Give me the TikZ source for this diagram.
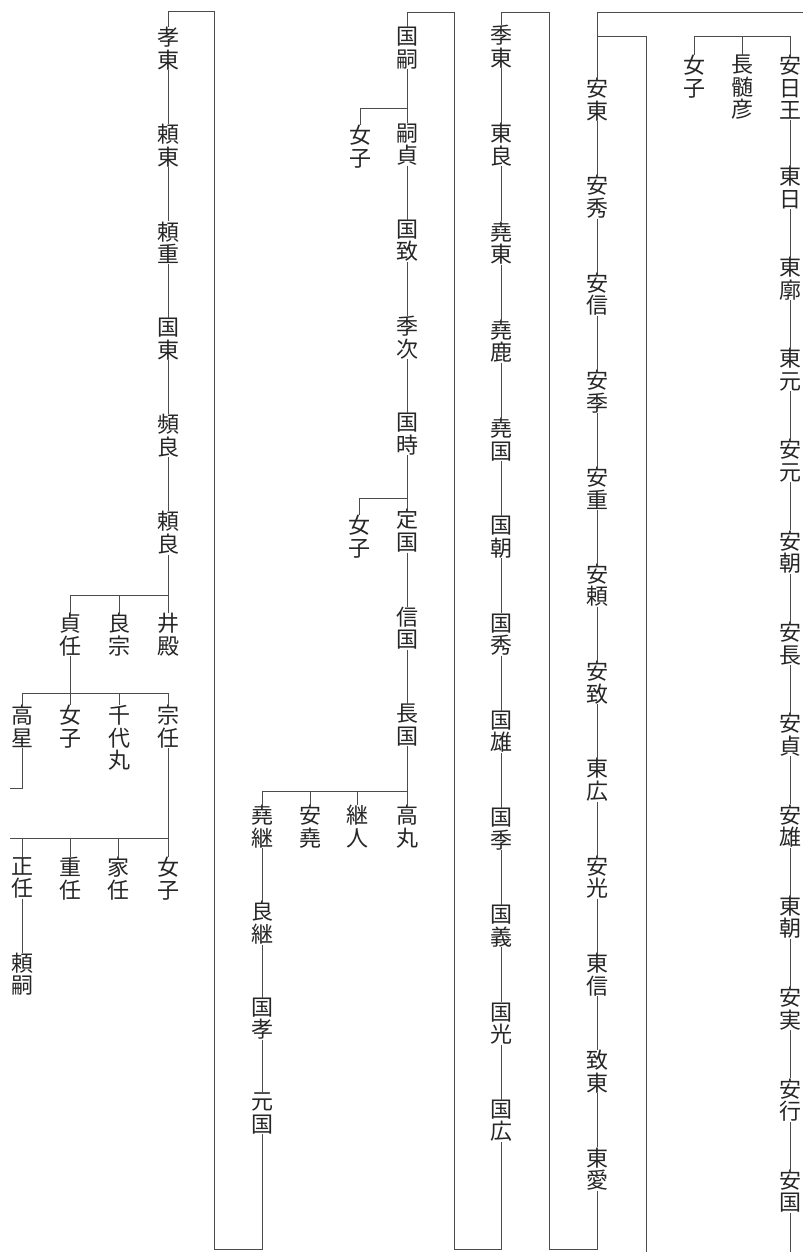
\documentclass[tikz,border=0pt]{standalone}
\usepackage{fontspec}
\newfontfamily\jp{Noto Sans CJK JP}
\usetikzlibrary{positioning}

\begin{document}
\begin{tikzpicture}[
    x=1pt, y=-1pt,
    nm/.style={inner sep=0pt, align=center, text=black!85, font=\jp\fontsize{22pt}{22.6pt}\selectfont},
    ln/.style={draw=black!70, line width=0.8pt}
]
    \fill[white] (0,0) rectangle (803,1252);
    \useasboundingbox (0,0) rectangle (803,1252);

    % right column
    \node[nm, anchor=north] (anichi) at (790,55) {安\\日\\王};
    \node[nm, anchor=north] (nagasune) at (742,55) {長\\髄\\彦};
    \node[nm, anchor=north] (joshiA) at (694,55) {女\\子};
    \node[nm, below=46pt of anichi] (tohi) {東\\日};
    \node[nm, below=48pt of tohi] (tokaku) {東\\廓};
    \node[nm, below=48pt of tokaku] (togen) {東\\元};
    \node[nm, below=48pt of togen] (yasumoto) {安\\元};
    \node[nm, below=48pt of yasumoto] (yasutomo) {安\\朝};
    \node[nm, below=48pt of yasutomo] (yasunaga) {安\\長};
    \node[nm, below=48pt of yasunaga] (yasusada) {安\\貞};
    \node[nm, below=48pt of yasusada] (yasuo) {安\\雄};
    \node[nm, below=48pt of yasuo] (toasa) {東\\朝};
    \node[nm, below=48pt of toasa] (yasuzane) {安\\実};
    \node[nm, below=48pt of yasuzane] (yasuyuki) {安\\行};
    \node[nm, below=48pt of yasuyuki] (yasukuni) {安\\国};

    % yasuto column
    \node[nm, anchor=north] (yasuto) at (597,78) {安\\東};
    \node[nm, below=54pt of yasuto] (yasuhide) {安\\秀};
    \node[nm, below=54pt of yasuhide] (yasunobu) {安\\信};
    \node[nm, below=54pt of yasunobu] (yasusue) {安\\季};
    \node[nm, below=54pt of yasusue] (yasushige) {安\\重};
    \node[nm, below=54pt of yasushige] (yasuyori) {安\\頼};
    \node[nm, below=54pt of yasuyori] (yasumune) {安\\致};
    \node[nm, below=54pt of yasumune] (tohiro) {東\\広};
    \node[nm, below=54pt of tohiro] (yasumitsu) {安\\光};
    \node[nm, below=54pt of yasumitsu] (tonobu) {東\\信};
    \node[nm, below=54pt of tonobu] (chito) {致\\東};
    \node[nm, below=54pt of chito] (toai) {東\\愛};

    % sueto column
    \node[nm, anchor=north] (sueto) at (501,25) {季\\東};
    \node[nm, below=55pt of sueto] (toyoshi) {東\\良};
    \node[nm, below=55pt of toyoshi] (takato) {堯\\東};
    \node[nm, below=55pt of takato] (takashika) {堯\\鹿};
    \node[nm, below=55pt of takashika] (takakuni) {堯\\国};
    \node[nm, below=55pt of takakuni] (kunitomo) {国\\朝};
    \node[nm, below=55pt of kunitomo] (kunihide) {国\\秀};
    \node[nm, below=55pt of kunihide] (kunio) {国\\雄};
    \node[nm, below=55pt of kunio] (kunisue) {国\\季};
    \node[nm, below=55pt of kunisue] (kuniyoshi) {国\\義};
    \node[nm, below=55pt of kuniyoshi] (kunimitsu) {国\\光};
    \node[nm, below=55pt of kunimitsu] (kunihiro) {国\\広};

    % kunitsugu column
    \node[nm, anchor=north] (kunitsugu) at (407,27) {国\\嗣};
    \node[nm, below=54pt of kunitsugu] (tsugusada) {嗣\\貞};
    \node[nm, below=54pt of tsugusada] (kunimune) {国\\致};
    \node[nm, below=54pt of kunimune] (suetsugu) {季\\次};
    \node[nm, below=54pt of suetsugu] (kunitoki) {国\\時};
    \node[nm, below=54pt of kunitoki] (sadakuni) {定\\国};
    \node[nm, below=54pt of sadakuni] (nobukuni) {信\\国};
    \node[nm, below=54pt of nobukuni] (nagakuni) {長\\国};
    \node[nm, anchor=north] (joshiB) at (360,125) {女\\子};
    \node[nm, anchor=north] (joshiC) at (359,515) {女\\子};
    \node[nm, anchor=north] (takamaru) at (407,805) {高\\丸};
    \node[nm, anchor=north] (tsuguhito) at (357,805) {継\\人};
    \node[nm, anchor=north] (yasutaka) at (310,805) {安\\堯};
    \node[nm, anchor=north] (takatsugu) at (262,805) {堯\\継};
    \node[nm, below=53pt of takatsugu] (yoshitsugu) {良\\継};
    \node[nm, below=53pt of yoshitsugu] (kunitaka) {国\\孝};
    \node[nm, below=53pt of kunitaka] (motokuni) {元\\国};

    % koto column
    \node[nm, anchor=north] (koto) at (168,27) {孝\\東};
    \node[nm, below=54pt of koto] (yorito) {頼\\東};
    \node[nm, below=54pt of yorito] (yorishige) {頼\\重};
    \node[nm, below=54pt of yorishige] (kunito) {国\\東};
    \node[nm, below=54pt of kunito] (hinyoshi) {頻\\良};
    \node[nm, below=54pt of hinyoshi] (yoriyoshi) {頼\\良};
    \node[nm, anchor=north] (idono) at (168,613) {井\\殿};
    \node[nm, anchor=north] (yoshimune) at (119,613) {良\\宗};
    \node[nm, anchor=north] (sadato) at (70,613) {貞\\任};
    \node[nm, anchor=north] (muneto) at (168,705) {宗\\任};
    \node[nm, anchor=north] (chiyomaru) at (119,705) {千\\代\\丸};
    \node[nm, anchor=north] (joshiD) at (70,705) {女\\子};
    \node[nm, anchor=north] (takaboshi) at (22,705) {高\\星};
    \node[nm, anchor=north] (joshiE) at (168,857) {女\\子};
    \node[nm, anchor=north] (ieto) at (118,857) {家\\任};
    \node[nm, anchor=north] (shigeto) at (70,857) {重\\任};
    \node[nm, anchor=north] (masato) at (22,857) {正\\任};
    \node[nm, below=54pt of masato] (yoritsugu) {頼\\嗣};

    % turning points
    \coordinate (inR) at (803,12);
    \coordinate (jA) at (597,36);
    \coordinate (outA) at (646,1252);
    \coordinate (tA) at (790,36);
    \coordinate (bB) at (549,1249);
    \coordinate (tB) at (549,12);
    \coordinate (bC) at (454,1249);
    \coordinate (tC) at (454,12);
    \coordinate (bD) at (214,1249);
    \coordinate (tD) at (214,11);
    \coordinate (outE) at (10,788);
    \coordinate (inF) at (10,838);

    % connectors
    \draw[ln] (inR) -| (yasuto);
    \draw[ln] (jA) -| (outA);
    \draw[ln] (joshiA) |- (tA) -- (anichi);
    \draw[ln] (nagasune) -- (nagasune |- tA);
    \draw[ln] (anichi) -- (tohi) -- (tokaku) -- (togen) -- (yasumoto) -- (yasutomo) -- (yasunaga) -- (yasusada) -- (yasuo) -- (toasa) -- (yasuzane) -- (yasuyuki) -- (yasukuni) -- (yasukuni |- outA);
    \draw[ln] (yasuto) -- (yasuhide) -- (yasunobu) -- (yasusue) -- (yasushige) -- (yasuyori) -- (yasumune) -- (tohiro) -- (yasumitsu) -- (tonobu) -- (chito) -- (toai) |- (bB) -- (tB) -| (sueto);
    \draw[ln] (sueto) -- (toyoshi) -- (takato) -- (takashika) -- (takakuni) -- (kunitomo) -- (kunihide) -- (kunio) -- (kunisue) -- (kuniyoshi) -- (kunimitsu) -- (kunihiro) |- (bC) -- (tC) -| (kunitsugu);
    \draw[ln] (kunitsugu) -- (tsugusada) -- (kunimune) -- (suetsugu) -- (kunitoki) -- (sadakuni) -- (nobukuni) -- (nagakuni) -- (takamaru);
    \draw[ln] (kunitsugu |- 0,108) -| (joshiB);
    \draw[ln] (kunitoki |- 0,498) -| (joshiC);
    \draw[ln] (takatsugu) |- (nagakuni |- 0,791);
    \draw[ln] (tsuguhito) -- (tsuguhito |- 0,791);
    \draw[ln] (yasutaka) -- (yasutaka |- 0,791);
    \draw[ln] (takatsugu) -- (yoshitsugu) -- (kunitaka) -- (motokuni) |- (bD) -- (tD) -| (koto);
    \draw[ln] (koto) -- (yorito) -- (yorishige) -- (kunito) -- (hinyoshi) -- (yoriyoshi) -- (idono);
    \draw[ln] (sadato) |- (idono |- 0,595);
    \draw[ln] (yoshimune) -- (yoshimune |- 0,595);
    \draw[ln] (sadato) -- (joshiD);
    \draw[ln] (takaboshi) |- (muneto |- 0,693) -- (muneto);
    \draw[ln] (chiyomaru) -- (chiyomaru |- 0,693);
    \draw[ln] (takaboshi) |- (outE);
    \draw[ln] (muneto) -- (joshiE);
    \draw[ln] (inF) -- (joshiE |- inF);
    \draw[ln] (masato) -- (masato |- inF);
    \draw[ln] (shigeto) -- (shigeto |- inF);
    \draw[ln] (ieto) -- (ieto |- inF);
    \draw[ln] (masato) -- (yoritsugu);
\end{tikzpicture}
\end{document}
